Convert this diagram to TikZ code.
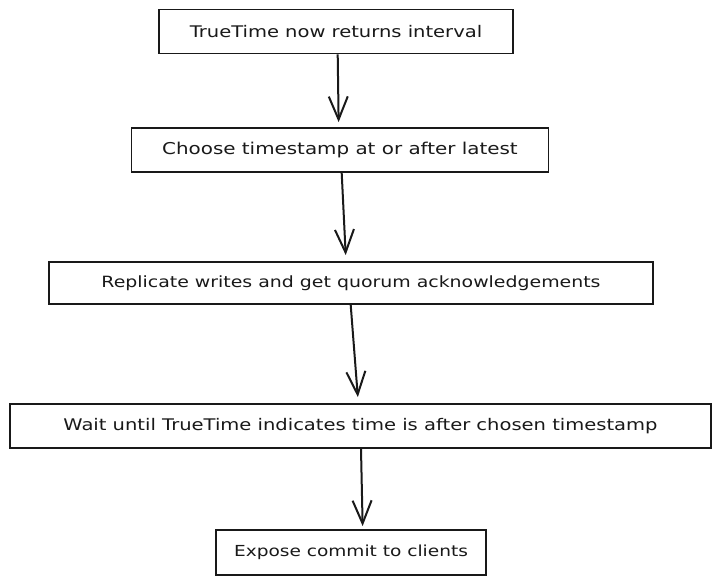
\documentclass[tikz,border=0pt]{standalone}
\usepackage{fontspec}
\setmainfont[FakeStretch=1.22]{DejaVu Sans}
\usetikzlibrary{arrows.meta}
\begin{document}
\begin{tikzpicture}[x=1pt,y=-1pt,
  stepbox/.style={draw=black!90,line width=1.8pt,fill=white,inner sep=0pt,
    minimum height=44pt,font=\fontsize{16}{19}\selectfont,text=black!90},
  flow/.style={line width=2pt,draw=black!90,-{Straight Barb[length=23pt,width=19pt,line width=2pt]}}]
\useasboundingbox (0,0) rectangle (721,585);
\node[stepbox,minimum width=354pt] (b1) at (336,31.5) {TrueTime now returns interval};
\node[stepbox,minimum width=417pt,font=\fontsize{16.3}{19}\selectfont] (b2) at (340,150) {Choose timestamp at or after latest};
\node[stepbox,minimum width=604pt,minimum height=42pt,font=\fontsize{15.5}{19}\selectfont] (b3) at (351,283) {Replicate writes and get quorum acknowledgements};
\node[stepbox,minimum width=701pt] (b4) at (360.5,426) {Wait until TrueTime indicates time is after chosen timestamp};
\node[stepbox,minimum width=270pt,minimum height=45pt,font=\fontsize{15.2}{19}\selectfont] (b5) at (351,552.5) {Expose commit to clients};
\draw[flow,shorten >=5pt] ([xshift=1.7pt]b1.south) -- ([xshift=-1.3pt]b2.north);
\draw[flow,shorten >=6pt] ([xshift=1.7pt]b2.south) -- ([xshift=-5pt]b3.north);
\draw[flow,shorten >=6pt] ([xshift=-0.3pt]b3.south) -- ([xshift=-2.2pt]b4.north);
\draw[flow,shorten >=3pt] ([xshift=0.5pt]b4.south) -- ([xshift=11.7pt]b5.north);
\end{tikzpicture}
\end{document}
